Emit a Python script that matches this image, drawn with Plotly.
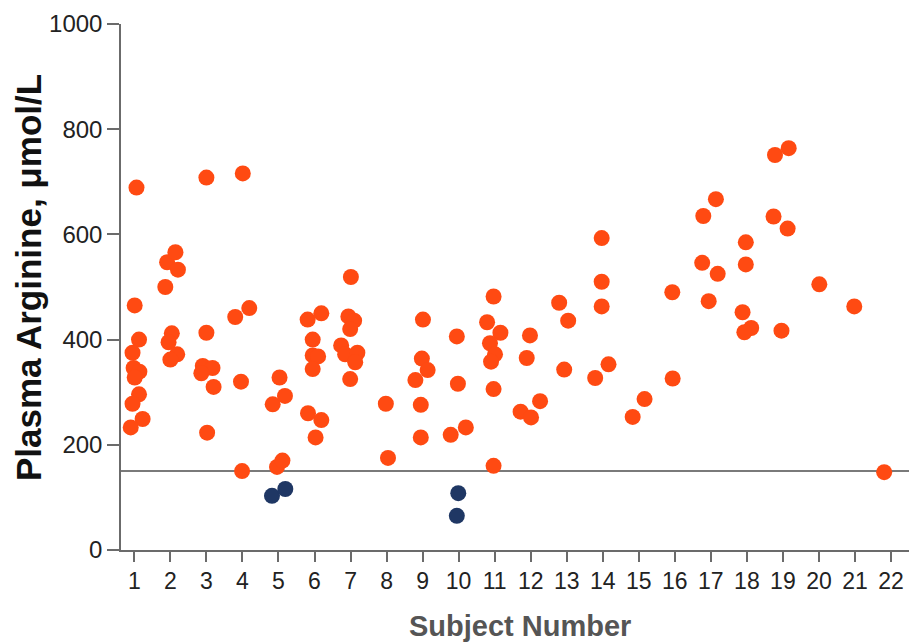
import plotly.graph_objects as go

# Subject numbers on the x axis
subjects = list(range(1, 23))
y_ticks = [0, 200, 400, 600, 800, 1000]
threshold = 150

# Plasma arginine measurements (x = subject number with horizontal jitter)
above_x = [
    1.06, 1.01, 1.13, 0.95, 0.98, 1.14, 1.01, 1.13, 0.95, 1.23, 0.90,
    1.91, 2.14, 2.21, 1.86, 2.04, 1.95, 2.19, 2.00,
    3.00, 3.00, 2.90, 3.17, 2.86, 3.20, 3.02,
    4.01, 3.80, 4.19, 3.96, 3.99,
    4.84, 5.03, 5.18, 4.96, 5.11,
    5.81, 6.19, 5.95, 5.95, 6.10, 5.95, 5.82, 6.19, 6.03,
    7.01, 6.94, 7.10, 6.99, 6.74, 6.85, 7.19, 7.13, 6.99,
    7.98, 8.04,
    9.01, 8.98, 9.14, 8.80, 8.95, 8.95,
    9.95, 9.98, 9.78, 10.20,
    10.97, 10.79, 11.16, 10.87, 11.01, 10.90, 10.97, 10.97,
    11.98, 11.89, 12.26, 11.72, 12.01,
    12.79, 13.04, 12.93,
    13.97, 13.97, 13.97, 14.16, 13.79,
    15.16, 14.83,
    15.93, 15.94,
    17.14, 16.79, 16.76, 17.19, 16.94,
    17.97, 17.97, 17.88, 18.12, 17.93,
    19.16, 18.78, 18.74, 19.13, 18.96,
    20.01,
    20.98,
    21.81,
]
above_y = [
    689, 465, 400, 375, 346, 339, 328, 296, 278, 249, 233,
    547, 566, 533, 500, 412, 395, 372, 362,
    708, 413, 350, 346, 336, 310, 223,
    716, 443, 460, 320, 150,
    277, 328, 293, 158, 170,
    438, 450, 400, 370, 368, 344, 260, 247, 214,
    519, 444, 436, 420, 389, 372, 375, 357, 325,
    278, 175,
    438, 364, 342, 323, 276, 214,
    406, 316, 219, 233,
    482, 433, 413, 393, 372, 358, 306, 160,
    408, 365, 283, 263, 252,
    470, 436, 343,
    593, 510, 463, 353, 327,
    287, 253,
    490, 326,
    667, 635, 546, 525, 473,
    585, 543, 452, 422, 414,
    764, 751, 634, 611, 417,
    505,
    463,
    148,
]
below_x = [4.82, 5.19, 9.99, 9.95]
below_y = [103, 116, 108, 65]

x_title = "Subject Number"
y_title = "Plasma Arginine, μmol/L"

orange = "#FF4A12"
navy = "#1F3764"
axis_col = "#6b6b6b"

fig = go.Figure()
fig.add_trace(go.Scatter(
    x=above_x, y=above_y, mode="markers",
    marker=dict(size=16, color=orange, line=dict(width=0)),
    showlegend=False, hoverinfo="x+y",
))
fig.add_trace(go.Scatter(
    x=below_x, y=below_y, mode="markers",
    marker=dict(size=16, color=navy, line=dict(width=0)),
    showlegend=False, hoverinfo="x+y",
))

fig.add_shape(type="line", xref="paper", x0=0, x1=1, yref="y",
              y0=threshold, y1=threshold,
              line=dict(color="#7a7a7a", width=2), layer="below")

tick_font = dict(family="Liberation Sans, Arial, sans-serif", size=24, color="#222222")
xtick_font = dict(family="Liberation Sans Narrow, Arial Narrow, Liberation Sans, sans-serif",
                  size=23, color="#222222")

fig.add_annotation(text=x_title, xref="paper", yref="paper", x=0.504, y=0,
                   yshift=-76, xanchor="center", yanchor="middle", showarrow=False,
                   font=dict(family="Liberation Sans, Arial, sans-serif", size=29,
                             color="#555555", weight="bold"))
fig.add_annotation(text=y_title, xref="paper", yref="paper", x=0, y=0.517,
                   xshift=-93, xanchor="center", yanchor="middle", textangle=-90,
                   showarrow=False,
                   font=dict(family="Liberation Sans, Arial, sans-serif", size=35,
                             color="#111111", weight="bold"))

# page body has an 8px default margin, so the figure is sized/margined to compensate
fig.update_layout(
    width=909, height=636,
    margin=dict(l=113, r=4, t=16, b=94),
    paper_bgcolor="white", plot_bgcolor="white",
    xaxis=dict(
        range=[0.63, 22.61], tickmode="array", tickvals=subjects,
        ticktext=[str(s) for s in subjects], automargin=False,
        showline=True, linecolor=axis_col, linewidth=1.5,
        ticks="outside", ticklen=10, tickcolor=axis_col, tickwidth=1.5,
        showgrid=False, zeroline=False, tickfont=xtick_font,
    ),
    yaxis=dict(
        range=[0, 1000], tickmode="array", tickvals=y_ticks, automargin=False,
        showline=True, linecolor=axis_col, linewidth=1.5,
        ticks="outside", ticklen=12, tickcolor=axis_col, tickwidth=1.5,
        showgrid=False, zeroline=False, tickfont=tick_font,
    ),
)

fig.write_html("out.html")
